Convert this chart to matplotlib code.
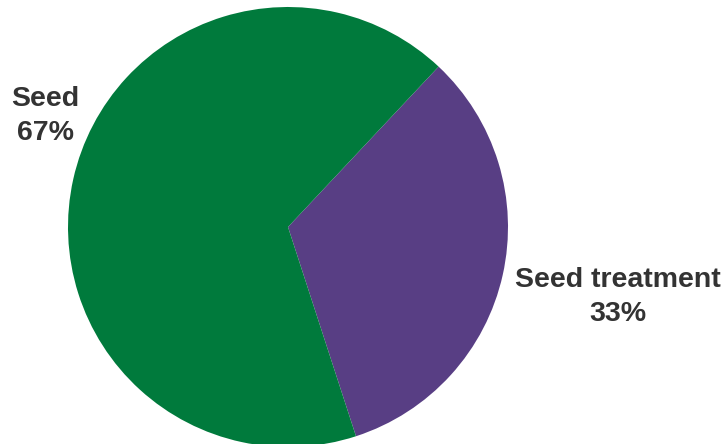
import matplotlib.pyplot as plt

labels = ["Seed treatment", "Seed"]
shares = [33, 67]
colors = ["#583e84", "#007a3c"]
label_pos = [(618, 147), (45, 328)]

plt.rcParams['font.family'] = ['Liberation Sans', 'DejaVu Sans']

fig = plt.figure(figsize=(7.28, 4.44), dpi=100)
ax = fig.add_axes([0, 0, 1, 1])

ax.pie(shares, colors=colors, startangle=46.8, counterclock=False,
       center=(288, 217), radius=220, frame=True,
       wedgeprops={'linewidth': 0})

for lab, val, (x, y) in zip(labels, shares, label_pos):
    ax.text(x, y, f"{lab}\n{val}%", ha='center', va='center', fontsize=20.5,
            fontweight='bold', color='#333333', linespacing=1.38)

ax.set_xlim(0, 728)
ax.set_ylim(0, 444)
ax.set_aspect('equal')
ax.axis('off')

fig.savefig("out.png", dpi=100)
